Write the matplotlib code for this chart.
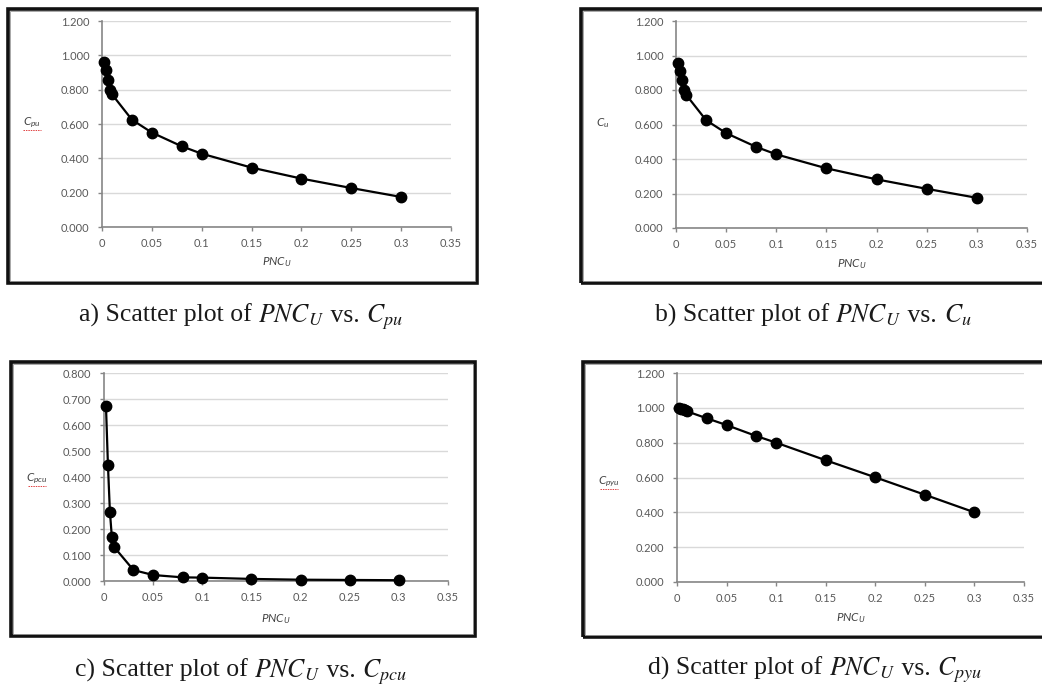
import matplotlib
matplotlib.use("Agg")
import matplotlib.pyplot as plt
from matplotlib.patches import Rectangle
from matplotlib.lines import Line2D

# ---------------- data ----------------
pnc_u = [0.002, 0.004, 0.006, 0.008, 0.010, 0.03, 0.05, 0.08, 0.10, 0.15, 0.20, 0.25, 0.30]
c_pu = [0.959, 0.913, 0.858, 0.800, 0.773, 0.625, 0.550, 0.470, 0.427, 0.346, 0.282, 0.227, 0.175]
c_u = [0.959, 0.913, 0.858, 0.800, 0.773, 0.625, 0.550, 0.470, 0.427, 0.346, 0.282, 0.227, 0.175]
c_pcu = [0.674, 0.447, 0.267, 0.168, 0.132, 0.042, 0.023, 0.014, 0.013, 0.008, 0.005, 0.004, 0.003]
c_pyu = [0.998, 0.996, 0.992, 0.985, 0.980, 0.940, 0.901, 0.838, 0.800, 0.699, 0.601, 0.501, 0.400]

x_ticks = [0, 0.05, 0.10, 0.15, 0.20, 0.25, 0.30, 0.35]
x_tick_labels = ["0", "0.05", "0.1", "0.15", "0.2", "0.25", "0.3", "0.35"]
y_ticks_12 = [0.0, 0.2, 0.4, 0.6, 0.8, 1.0, 1.2]
y_ticks_08 = [0.0, 0.1, 0.2, 0.3, 0.4, 0.5, 0.6, 0.7, 0.8]

y_labels = [r"$C_{pu}$", r"$C_{u}$", r"$C_{pcu}$", r"$C_{pyu}$"]
captions = [
    ("a) Scatter plot of ", r"$PNC_U$", " vs. ", r"$C_{pu}$"),
    ("b) Scatter plot of ", r"$PNC_U$", " vs. ", r"$C_{u}$"),
    ("c) Scatter plot of ", r"$PNC_U$", " vs. ", r"$C_{pcu}$"),
    ("d) Scatter plot of ", r"$PNC_U$", " vs. ", r"$C_{pyu}$"),
]

# ---------------- style ----------------
plt.rcParams["mathtext.fontset"] = "custom"
plt.rcParams["mathtext.it"] = "Lato:italic"
plt.rcParams["mathtext.rm"] = "Lato"
plt.rcParams["font.family"] = ["Lato", "DejaVu Sans"]

W, H = 1042, 686
fig = plt.figure(figsize=(W / 100, H / 100), dpi=100)
fig.patch.set_facecolor("white")


def rect(l, t, r, b):
    return [l / W, 1 - b / H, (r - l) / W, (b - t) / H]


def fx(x):
    return x / W


def fy(y):
    return 1 - y / H


panels = [
    dict(ax=(102, 21, 451, 227), frame=(8, 9, 477, 283), ylab=(32, 123), xlab_y=262,
         cap=(241, 322), y=c_pu, yt=y_ticks_12, ymax=1.2, red=True),
    dict(ax=(676, 21, 1027, 228), frame=(581, 9, 1046, 283), ylab=(603, 123), xlab_y=264,
         cap=(813, 322), y=c_u, yt=y_ticks_12, ymax=1.2, red=False),
    dict(ax=(104, 373, 448, 581), frame=(11, 362, 475, 636), ylab=(37, 479), xlab_y=619,
         cap=(241, 677), y=c_pcu, yt=y_ticks_08, ymax=0.8, red=True),
    dict(ax=(677, 373, 1024, 582), frame=(583, 362, 1046, 637), ylab=(609, 482), xlab_y=618,
         cap=(815, 675), y=c_pyu, yt=y_ticks_12, ymax=1.2, red=True),
]

tick_col = "#595959"
spine_col = "#868686"
grid_col = "#d9d9d9"

renderer = fig.canvas.get_renderer()

for i, p in enumerate(panels):
    # frame
    l, t, r, b = p["frame"]
    fig.patches.append(Rectangle((fx(l), fy(b)), fx(r - l), (b - t) / H, transform=fig.transFigure,
                                 fill=False, edgecolor="#111111", linewidth=2.6, zorder=0))
    fig.patches.append(Rectangle((fx(l + 2), fy(b - 2)), fx(r - l - 4), (b - t - 4) / H,
                                 transform=fig.transFigure, fill=False, edgecolor="#9a9a9a",
                                 linewidth=0.6, zorder=0))

    ax = fig.add_axes(rect(*p["ax"]))
    ax.set_facecolor("none")
    ax.plot(pnc_u, p["y"], color="black", lw=1.6, marker="o", markersize=7.5,
            markerfacecolor="black", markeredgecolor="black", zorder=3, clip_on=False)
    ax.set_xlim(0, 0.35)
    ax.set_ylim(0, p["ymax"])
    ax.set_xticks(x_ticks)
    ax.set_xticklabels(x_tick_labels)
    ax.set_yticks(p["yt"])
    ax.set_yticklabels(["%.3f" % v for v in p["yt"]])
    ax.yaxis.grid(True, color=grid_col, lw=1.0)
    ax.set_axisbelow(True)
    for s in ["top", "right"]:
        ax.spines[s].set_visible(False)
    for s in ["left", "bottom"]:
        ax.spines[s].set_color(spine_col)
        ax.spines[s].set_linewidth(1.2)
    ax.tick_params(axis="both", direction="out", length=3, width=1, color=spine_col,
                   labelsize=8, labelcolor=tick_col)
    ax.tick_params(axis="y", pad=6)
    ax.tick_params(axis="x", pad=5)

    # axis labels (Excel-like)
    axl, axt, axr, axb = p["ax"]
    fig.text(fx((axl + axr) / 2), fy(p["xlab_y"]), r"$PNC_U$", ha="center", va="center",
             fontsize=8.5, color="#404040")
    yx, yy = p["ylab"]
    fig.text(fx(yx), fy(yy), y_labels[i], ha="center", va="center", fontsize=8.5, color="#404040")
    if p["red"]:
        fig.add_artist(Line2D([fx(yx - 9), fx(yx + 9)], [fy(yy + 7), fy(yy + 7)],
                              transform=fig.transFigure, color="#e04040", lw=0.7,
                              linestyle=(0, (1.5, 1))))

    # caption, assembled piece by piece (serif text + math italics)
    cx, cy = p["cap"]
    texts = []
    for part in captions[i]:
        if part.startswith("$"):
            tt = fig.text(0, fy(cy), part, fontsize=18.5, math_fontfamily="stix",
                          ha="left", va="baseline", color="#1a1a1a")
        else:
            tt = fig.text(0, fy(cy), part, fontsize=18.5, family="Liberation Serif",
                          ha="left", va="baseline", color="#1a1a1a")
        texts.append(tt)
    widths = [tt.get_window_extent(renderer=renderer).width for tt in texts]
    x0 = cx - sum(widths) / 2
    for tt, w in zip(texts, widths):
        tt.set_x(fx(x0))
        x0 += w

fig.savefig("out.png", dpi=100, facecolor="white")
